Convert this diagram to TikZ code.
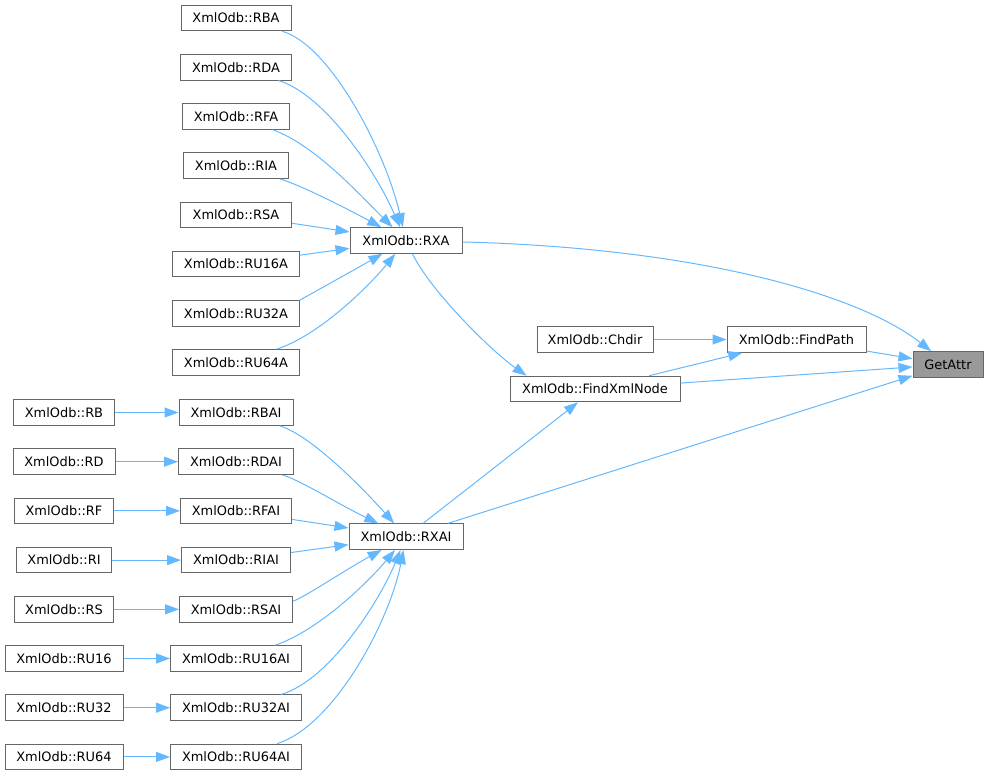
\documentclass[tikz,border=0pt]{standalone}
\usepackage{fontspec}
\setmainfont{DejaVu Sans}
\usetikzlibrary{arrows.meta}
\definecolor{edgec}{HTML}{63B8FF}
\definecolor{borderc}{HTML}{666666}
\definecolor{focusc}{HTML}{999999}
\begin{document}
\begin{tikzpicture}[x=0.75pt,y=-0.75pt,
  fn/.style={draw=borderc,line width=0.75pt,fill=white,inner sep=0pt,minimum height=19.2pt,
    font=\fontsize{9.7pt}{11pt}\selectfont,text=black},
  focus/.style={fn,fill=focusc},
  call/.style={draw=edgec,line width=0.75pt,-{Triangle[length=10.5pt,width=7.5pt]}}]
\useasboundingbox (0,0) rectangle (988,776);
% upper group
\node[fn,minimum width=82.5pt]  (RBA)   at (236,18)    {XmlOdb::RBA};
\node[fn,minimum width=83.25pt] (RDA)   at (236,67.2)  {XmlOdb::RDA};
\node[fn,minimum width=80.25pt] (RFA)   at (236,116.4) {XmlOdb::RFA};
\node[fn,minimum width=78.75pt] (RIA)   at (236,165.6) {XmlOdb::RIA};
\node[fn,minimum width=83.25pt] (RSA)   at (236,214.8) {XmlOdb::RSA};
\node[fn,minimum width=95.25pt] (RU16A) at (236,264)   {XmlOdb::RU16A};
\node[fn,minimum width=95.25pt] (RU32A) at (236,313.2) {XmlOdb::RU32A};
\node[fn,minimum width=95.25pt] (RU64A) at (236,362.4) {XmlOdb::RU64A};
\node[fn,minimum width=84pt]    (RXA)   at (406,240.5) {XmlOdb::RXA};
% middle
\node[fn,minimum width=87pt]     (Chdir) at (595,339.5) {XmlOdb::Chdir};
\node[fn,minimum width=104.25pt] (FindPath) at (796.5,339.5) {XmlOdb::FindPath};
\node[focus,minimum width=52.5pt] (GetAttr) at (948,364.5) {GetAttr};
\node[fn,minimum width=127.5pt]  (FindXmlNode) at (595,389) {XmlOdb::FindXmlNode};
% lower group
\node[fn,minimum width=75.75pt] (RB)   at (64,412.5) {XmlOdb::RB};
\node[fn,minimum width=76.5pt]  (RD)   at (64,461.7) {XmlOdb::RD};
\node[fn,minimum width=74.25pt] (RF)   at (64,510.9) {XmlOdb::RF};
\node[fn,minimum width=71.25pt] (RI)   at (64,560.1) {XmlOdb::RI};
\node[fn,minimum width=74.25pt] (RS)   at (64,609.3) {XmlOdb::RS};
\node[fn,minimum width=88.5pt]  (RU16) at (64,658.5) {XmlOdb::RU16};
\node[fn,minimum width=88.5pt]  (RU32) at (64,707.7) {XmlOdb::RU32};
\node[fn,minimum width=88.5pt]  (RU64) at (64,756.9) {XmlOdb::RU64};
\node[fn,minimum width=85.5pt]  (RBAI)   at (236,412.5) {XmlOdb::RBAI};
\node[fn,minimum width=86.25pt] (RDAI)   at (236,461.7) {XmlOdb::RDAI};
\node[fn,minimum width=83.25pt] (RFAI)   at (236,510.9) {XmlOdb::RFAI};
\node[fn,minimum width=81.75pt] (RIAI)   at (236,560.1) {XmlOdb::RIAI};
\node[fn,minimum width=84.75pt] (RSAI)   at (236,609.3) {XmlOdb::RSAI};
\node[fn,minimum width=98.25pt] (RU16AI) at (236,658.5) {XmlOdb::RU16AI};
\node[fn,minimum width=98.25pt] (RU32AI) at (236,707.7) {XmlOdb::RU32AI};
\node[fn,minimum width=98.25pt] (RU64AI) at (236,756.9) {XmlOdb::RU64AI};
\node[fn,minimum width=85.5pt]  (RXAI)   at (406,536.7) {XmlOdb::RXAI};
% edges upper
\draw[call] (RBA) .. controls (330,45) and (385,150) .. (RXA);
\draw[call] (RDA) .. controls (325,95) and (375,170) .. (RXA);
\draw[call] (RFA) .. controls (315,145) and (360,195) .. (RXA);
\draw[call] (RIA) .. controls (300,185) and (340,205) .. (RXA);
\draw[call] (RSA) -- (RXA);
\draw[call] (RU16A) -- (RXA);
\draw[call] (RU32A) .. controls (300,300) and (345,275) .. (RXA);
\draw[call] (RU64A) .. controls (320,335) and (370,285) .. (RXA);
\draw[call] (RXA) .. controls (700,248) and (860,295) .. (GetAttr);
\draw[call] (RXA) .. controls (430,290) and (490,350) .. (FindXmlNode.169);
% middle edges
\draw[call] (Chdir) -- (FindPath);
\draw[call] (FindXmlNode) -- (FindPath);
\draw[call] (FindPath) -- (GetAttr);
\draw[call] (FindXmlNode) -- (GetAttr);
\draw[call] (RXAI) -- (GetAttr);
\draw[call] (RXAI) -- (FindXmlNode);
% lower edges
\draw[call] (RB) -- (RBAI);
\draw[call] (RD) -- (RDAI);
\draw[call] (RF) -- (RFAI);
\draw[call] (RI) -- (RIAI);
\draw[call] (RS) -- (RSAI);
\draw[call] (RU16) -- (RU16AI);
\draw[call] (RU32) -- (RU32AI);
\draw[call] (RU64) -- (RU64AI);
\draw[call] (RBAI) .. controls (310,435) and (360,485) .. (RXAI);
\draw[call] (RDAI) .. controls (300,480) and (340,505) .. (RXAI);
\draw[call] (RFAI) -- (RXAI);
\draw[call] (RIAI) -- (RXAI);
\draw[call] (RSAI) .. controls (300,600) and (345,570) .. (RXAI);
\draw[call] (RU16AI) .. controls (320,630) and (370,580) .. (RXAI);
\draw[call] (RU32AI) .. controls (330,680) and (380,600) .. (RXAI);
\draw[call] (RU64AI) .. controls (335,725) and (390,620) .. (RXAI);
\end{tikzpicture}
\end{document}
